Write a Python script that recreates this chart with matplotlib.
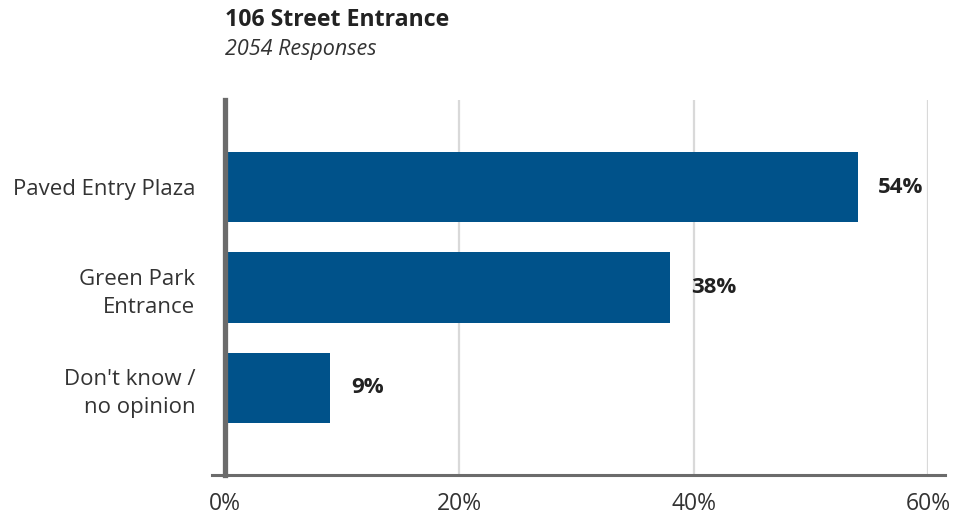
import matplotlib.pyplot as plt

# data
categories = ["Paved Entry Plaza", "Green Park\nEntrance", "Don't know /\nno opinion"]
values = [54, 38, 9]
xticks = [0, 20, 40, 60]
xtick_labels = ["0%", "20%", "40%", "60%"]

plt.rcParams["font.family"] = ["Open Sans", "DejaVu Sans"]

W, H = 954, 515
fig = plt.figure(figsize=(W / 100, H / 100), dpi=100)
ax = fig.add_axes([225 / W, 1 - 475 / H, (928 - 225) / W, (475 - 100) / H])

bar_color = "#00528a"
axis_color = "#6b6b6b"

y = range(len(categories))
ax.barh(y, values, height=0.7, color=bar_color, zorder=3)
for yi, v in zip(y, values):
    ax.text(v + 1.75, yi, f"{v}%", va="center", ha="left",
            fontsize=16, fontweight="bold", color="#222222")

ax.set_xlim(0, 60)
ax.set_ylim(2.87, -0.87)
ax.set_xticks(xticks)
ax.set_xticklabels(xtick_labels, fontsize=16.5, color="#333333")
ax.set_yticks(list(y))
ax.set_yticklabels(categories, fontsize=16, color="#333333", linespacing=1.45)
ax.tick_params(axis="both", length=0)
ax.tick_params(axis="x", pad=12)
ax.tick_params(axis="y", pad=21.5)

ax.grid(axis="x", color="#d9d9d9", linewidth=1.6, zorder=0)
for s in ["top", "right", "bottom"]:
    ax.spines[s].set_visible(False)
ax.spines["left"].set_color(axis_color)
ax.spines["left"].set_linewidth(3.8)
ax.spines["left"].set_zorder(4)

# bottom axis line extends past the plot area
ax.plot([-13 / 703, 720 / 703], [0, 0], transform=ax.transAxes,
        color=axis_color, linewidth=2.2, clip_on=False, zorder=4)

fig.text(225 / W, 1 - 20 / H, "106 Street Entrance", fontsize=16.7,
         fontweight="bold", color="#222222", va="center", ha="left")
fig.text(225 / W, 1 - 50 / H, "2054 Responses", fontsize=15.5,
         style="italic", color="#333333", va="center", ha="left")

fig.savefig("out.png", dpi=100)
